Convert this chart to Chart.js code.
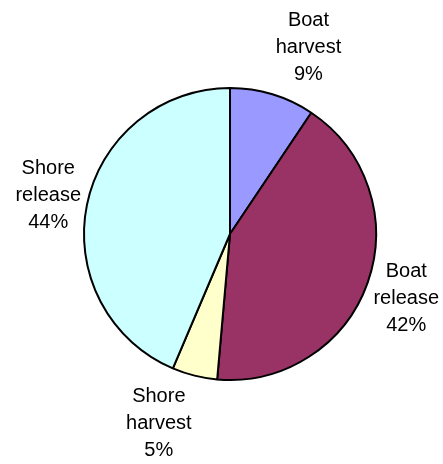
<!DOCTYPE html>
<html>
<head>
<meta charset="utf-8">
<script src="https://cdn.jsdelivr.net/npm/chart.js@4/dist/chart.umd.min.js"></script>
<style>
  html, body { margin: 0; padding: 0; background: #fff; }
  #wrap { width: 443px; height: 464px; }
</style>
</head>
<body>
<div id="wrap"><canvas id="pie" width="443" height="464"></canvas></div>
<script>
// slice data (percent of total)
const categories = [["Boat", "harvest"], ["Boat", "release"], ["Shore", "harvest"], ["Shore", "release"]];
const shares = [9.4, 42.0, 5.0, 43.6];
const sliceColors = ["#9999FF", "#993366", "#FFFFCC", "#CCFFFF"];

// Excel-style outside labels: box hangs off a point just outside the rim
const outsideLabels = {
  id: "outsideLabels",
  afterDatasetsDraw(chart) {
    const ctx = chart.ctx;
    const meta = chart.getDatasetMeta(0);
    const lh = 27;
    ctx.save();
    ctx.font = "20px 'Liberation Sans', Arial, sans-serif";
    ctx.fillStyle = "#000";
    ctx.textAlign = "center";
    ctx.textBaseline = "middle";
    meta.data.forEach((arc, i) => {
      const mid = (arc.startAngle + arc.endAngle) / 2;
      const r = arc.outerRadius + 4;
      const ax = arc.x + Math.cos(mid) * r;
      const ay = arc.y + Math.sin(mid) * r;
      const lines = categories[i].concat([Math.round(shares[i]) + "%"]);
      const w = Math.max(...lines.map((t) => ctx.measureText(t).width));
      const cx = ax + Math.sign(Math.cos(mid)) * (w / 2 + 2);
      const cy = ay + Math.sin(mid) * 45;
      lines.forEach((txt, j) => {
        ctx.fillText(txt, cx, cy + (j - (lines.length - 1) / 2) * lh);
      });
    });
    ctx.restore();
  }
};

new Chart(document.getElementById("pie"), {
  type: "pie",
  data: {
    labels: categories.map((c) => c.join(" ")),
    datasets: [
      {
        data: shares,
        backgroundColor: sliceColors,
        borderColor: "#000",
        borderWidth: 2,
      },
    ],
  },
  options: {
    responsive: false,
    animation: false,
    layout: { padding: { left: 83, right: 66, top: 87, bottom: 83 } },
    plugins: {
      legend: { display: false },
      tooltip: { enabled: false },
    },
  },
  plugins: [outsideLabels],
});
</script>
</body>
</html>
